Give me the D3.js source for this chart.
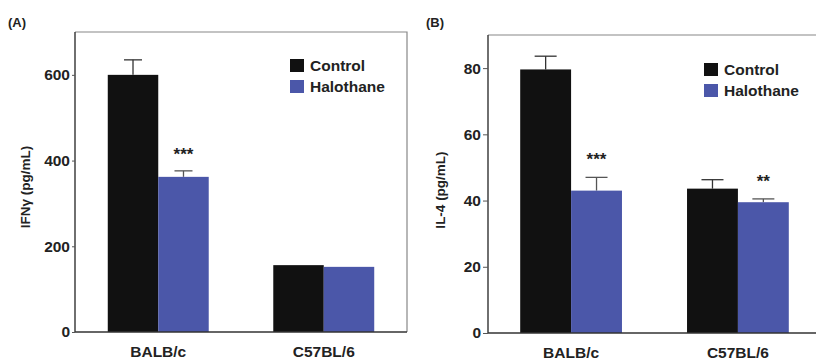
<!DOCTYPE html>
<html>
<head>
<meta charset="utf-8">
<script src="https://cdn.jsdelivr.net/npm/d3@7"></script>
<style>
  body { margin: 0; background: #fff; }
  svg { display: block; font-family: "Liberation Sans", Arial, sans-serif; }
  .tick text { font-size: 15.5px; font-weight: bold; fill: #222; }
</style>
</head>
<body>
<svg width="816" height="362"></svg>
<script>
// groups and series
var groups = ["BALB/c", "C57BL/6"];
var series = ["Control", "Halothane"];
var colors = ["#111111", "#4b57a9"];

// panel A: IFNγ (pg/mL)
var ifnControl = [600, 156];
var ifnControlErr = [35, 0];
var ifnHalo = [362, 152];
var ifnHaloErr = [14, 0];
var ifnSig = ["***", ""];
var ifnTicks = [0, 200, 400, 600];

// panel B: IL-4 (pg/mL)
var il4Control = [79.6, 43.6];
var il4ControlErr = [4, 2.7];
var il4Halo = [43, 39.5];
var il4HaloErr = [4, 1];
var il4Sig = ["***", "**"];
var il4Ticks = [0, 20, 40, 60, 80];

var svg = d3.select("svg");

function panel(opt) {
    var x = d3.scaleBand().domain(groups).range([opt.left, opt.right])
        .paddingInner(opt.pin).paddingOuter(opt.pout);
    var xs = d3.scaleBand().domain(series).range([0, x.bandwidth()]);
    var y = d3.scaleLinear().domain(opt.domain).range([opt.bottom, opt.top]);

    var g = svg.append("g");

    // frame (top and right)
    g.append("path")
        .attr("d", "M" + opt.left + "," + opt.top + "H" + opt.right + "V" + opt.bottom)
        .attr("fill", "none").attr("stroke", "#888").attr("stroke-width", 1.2);

    var rows = groups.map(function (d, i) {
        return [
            { g: d, s: series[0], v: opt.control[i], e: opt.controlErr[i] },
            { g: d, s: series[1], v: opt.halo[i], e: opt.haloErr[i] }
        ];
    });
    var flat = [].concat.apply([], rows);

    // error bars (upper only)
    var eb = g.selectAll(".err").data(flat.filter(function (d) { return d.e > 0; }))
        .enter().append("g").attr("class", "err")
        .attr("stroke", function (d) { return d.s == "Control" ? "#333" : "#555"; })
        .attr("stroke-width", 1.3);
    eb.append("line")
        .attr("x1", function (d) { return x(d.g) + xs(d.s) + xs.bandwidth() / 2; })
        .attr("x2", function (d) { return x(d.g) + xs(d.s) + xs.bandwidth() / 2; })
        .attr("y1", function (d) { return y(d.v); })
        .attr("y2", function (d) { return y(d.v + d.e); });
    eb.append("line")
        .attr("x1", function (d) { return x(d.g) + xs(d.s) + xs.bandwidth() / 2 - opt.cap / 2; })
        .attr("x2", function (d) { return x(d.g) + xs(d.s) + xs.bandwidth() / 2 + opt.cap / 2; })
        .attr("y1", function (d) { return y(d.v + d.e); })
        .attr("y2", function (d) { return y(d.v + d.e); });

    // bars
    g.selectAll(".bar").data(flat).enter().append("rect")
        .attr("x", function (d) { return x(d.g) + xs(d.s); })
        .attr("y", function (d) { return y(d.v); })
        .attr("width", xs.bandwidth())
        .attr("height", function (d) { return y(0) - y(d.v); })
        .attr("fill", function (d) { return colors[series.indexOf(d.s)]; });

    // significance stars
    g.selectAll(".sig").data(groups).enter().append("text")
        .attr("x", function (d) { return x(d) + xs("Halothane") + xs.bandwidth() / 2; })
        .attr("y", function (d, i) { return y(opt.halo[i] + opt.haloErr[i]) - opt.starGap; })
        .attr("text-anchor", "middle")
        .attr("font-size", 17).attr("font-weight", "bold").attr("fill", "#222")
        .text(function (d, i) { return opt.sig[i]; });

    // y axis
    var ya = g.append("g").attr("transform", "translate(" + opt.left + ",0)")
        .call(d3.axisLeft(y).tickValues(opt.ticks).tickSize(opt.tick).tickPadding(2));
    ya.select(".domain").attr("stroke", "#333").attr("stroke-width", 1.4)
        .attr("d", "M0," + opt.top + "V" + opt.bottom);
    ya.selectAll(".tick line").attr("stroke", "#555");

    // x axis
    var xa = g.append("g").attr("transform", "translate(0," + opt.bottom + ")")
        .call(d3.axisBottom(x).tickSize(0).tickPadding(12));
    xa.select(".domain").attr("stroke", "#333").attr("stroke-width", 1.6)
        .attr("d", "M" + opt.left + ",0H" + opt.right);
    xa.selectAll(".tick text").attr("dy", "0.85em");

    // y label
    g.append("text")
        .attr("transform", "translate(" + opt.labelX + "," + opt.labelY + ") rotate(-90)")
        .attr("text-anchor", "middle")
        .attr("font-size", 13.5).attr("font-weight", "bold").attr("fill", "#222")
        .text(opt.label);

    // panel letter
    g.append("text").attr("x", opt.letterX).attr("y", 27)
        .attr("font-size", 13).attr("font-weight", "bold").attr("fill", "#222")
        .text(opt.letter);

    // legend
    var lg = g.selectAll(".leg").data(series).enter().append("g")
        .attr("transform", function (d, i) { return "translate(" + opt.legX + "," + (opt.legY + i * 21) + ")"; });
    lg.append("rect").attr("width", 14).attr("height", 13)
        .attr("fill", function (d, i) { return colors[i]; });
    lg.append("text").attr("x", 20).attr("y", 11.5)
        .attr("font-size", 15.5).attr("font-weight", "bold").attr("fill", "#222")
        .text(function (d) { return d; });
}

panel({
    left: 75, right: 407, top: 32, bottom: 332, pin: 0.39, pout: 0.198,
    domain: [0, 700], ticks: ifnTicks, tick: 3, cap: 18, starGap: 11,
    control: ifnControl, controlErr: ifnControlErr, halo: ifnHalo, haloErr: ifnHaloErr,
    sig: ifnSig, label: "IFNγ (pg/mL)", labelX: 30, labelY: 187,
    letter: "(A)", letterX: 8, legX: 290, legY: 59
});

panel({
    left: 488, right: 821, top: 35, bottom: 333, pin: 0.39, pout: 0.193,
    domain: [0, 90], ticks: il4Ticks, tick: 5, cap: 22, starGap: 12,
    control: il4Control, controlErr: il4ControlErr, halo: il4Halo, haloErr: il4HaloErr,
    sig: il4Sig, label: "IL-4 (pg/mL)", labelX: 445, labelY: 190,
    letter: "(B)", letterX: 426, legX: 704, legY: 63
});
</script>
</body>
</html>
